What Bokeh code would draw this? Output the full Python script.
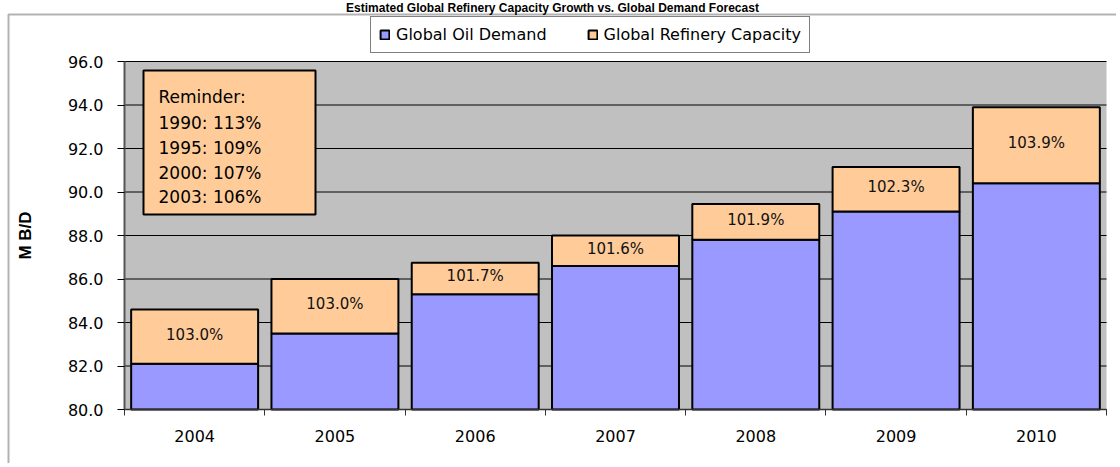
import math
from bokeh.plotting import figure
from bokeh.models import (Range1d, FixedTicker, Legend, LegendItem, Label,
                          BoxAnnotation, PrintfTickFormatter, ColumnDataSource)
from bokeh.core.properties import value
from bokeh.embed import file_html
from bokeh.resources import INLINE

# ---------------- data ----------------
years = ["2004", "2005", "2006", "2007", "2008", "2009", "2010"]
demand = [82.1, 83.5, 85.3, 86.6, 87.8, 89.1, 90.4]          # Global Oil Demand (M B/D)
capacity = [84.6, 86.0, 86.75, 88.0, 89.45, 91.15, 93.9]     # Global Refinery Capacity (M B/D)
growth_labels = ["103.0%", "103.0%", "101.7%", "101.6%", "101.9%", "102.3%", "103.9%"]
reminder_years = ["1990", "1995", "2000", "2003"]
reminder_values = ["113%", "109%", "107%", "106%"]
y_ticks = [80, 82, 84, 86, 88, 90, 92, 94, 96]
title_text = "Estimated Global Refinery Capacity Growth vs. Global Demand Forecast"
y_title = "M B/D"

# ---------------- layout (page pixels; the frame covers the whole canvas) ----------------
W, H = 1116, 463
PL, PR, PT, PB = 124, 1106, 61, 409   # grey plot area
Y0, Y1 = 80.0, 96.0
N = len(years)


def dx(cx):
    return (cx - PL) / (PR - PL) * N


def dy(cy):
    return Y0 + (PB - cy) / (PB - PT) * (Y1 - Y0)


xc = [i + 0.5 for i in range(N)]
src = ColumnDataSource(dict(
    x=xc, demand=demand, capacity=capacity, base=[Y0] * N,
    mid=[(d + c) / 2 for d, c in zip(demand, capacity)], lab=growth_labels))

p = figure(width=W, height=H, x_range=Range1d(dx(0), dx(W)), y_range=Range1d(dy(H), dy(0)),
           output_backend="svg", toolbar_location=None, title_location=None,
           min_border_left=0, min_border_right=0, min_border_top=0, min_border_bottom=0)
p.background_fill_color = "white"
p.border_fill_color = "white"
p.outline_line_color = None

# outer chart border
p.add_layout(BoxAnnotation(left=dx(8), right=dx(W + 60), top=dy(14), bottom=dy(H + 60),
                           fill_color=None, line_color="black", line_width=2))

# title (above the chart border)
p.add_layout(Label(x=dx(552), y=dy(0), text=title_text, text_align="center",
                   text_baseline="top", text_font="Liberation Sans",
                   text_font_style="bold", text_font_size="12px", text_color="black"))

# y title
p.add_layout(Label(x=dx(25), y=dy(235), text=y_title, angle=math.pi / 2,
                   text_align="center", text_baseline="middle",
                   text_font="Liberation Sans", text_font_style="bold",
                   text_font_size="17px", text_color="black"))

# grey plot area and grid lines
p.quad(left=[0], right=[N], bottom=[Y0], top=[Y1], fill_color="#C0C0C0", line_color=None)
p.segment(x0=[0] * len(y_ticks), x1=[N] * len(y_ticks), y0=y_ticks, y1=y_ticks,
          line_color="black", line_width=1)
p.xgrid.visible = False
p.ygrid.visible = False

# bars
BAR_W = 0.905
r1 = p.vbar(x="x", width=BAR_W, bottom="base", top="demand", source=src,
            fill_color="#9999FF", line_color="black", line_width=2)
r2 = p.vbar(x="x", width=BAR_W, bottom="demand", top="capacity", source=src,
            fill_color="#FFCC99", line_color="black", line_width=2)
p.text(x="x", y="mid", text="lab", source=src, text_align="center",
       text_baseline="middle", text_font=value("DejaVu Sans"),
       text_font_size="15px", text_color="#111111", y_offset=-2)

# reminder box
p.quad(left=[dx(143)], right=[dx(315)], top=[dy(70)], bottom=[dy(214)],
       fill_color="#FFCC99", line_color="black", line_width=2)
rem_lines = ["Reminder:"] + [f"{y}:  {v}" for y, v in zip(reminder_years, reminder_values)]
rem_base = [96.7, 122.3, 147.3, 172.3, 196.7]
p.text(x=[dx(158)] * len(rem_lines), y=[dy(b) for b in rem_base], text=rem_lines,
       text_align="left", text_baseline="alphabetic",
       text_font=value("DejaVu Sans"), text_font_size="17px", text_color="black")

# y axis (fixed at the left edge of the plot area)
p.yaxis.fixed_location = 0
p.yaxis.bounds = (Y0, Y1)
p.yaxis.ticker = FixedTicker(ticks=y_ticks)
p.yaxis.formatter = PrintfTickFormatter(format="%.1f")
p.yaxis.major_tick_out = 7
p.yaxis.major_tick_in = 0
p.yaxis.major_tick_line_color = "black"
p.yaxis.minor_tick_line_color = None
p.yaxis.axis_line_color = "#555555"
p.yaxis.axis_line_width = 2
p.yaxis.major_label_standoff = 14
p.yaxis.major_label_text_font = "DejaVu Sans"
p.yaxis.major_label_text_font_size = "16px"
p.yaxis.major_label_text_color = "black"

# x axis (fixed at the bottom of the plot area)
p.xaxis.fixed_location = Y0
p.xaxis.bounds = (0, N)
p.xaxis.ticker = FixedTicker(ticks=xc, minor_ticks=list(range(N + 1)))
p.xaxis.major_label_overrides = {x: y for x, y in zip(xc, years)}
p.xaxis.major_tick_out = 0
p.xaxis.major_tick_in = 0
p.xaxis.major_tick_line_color = None
p.xaxis.minor_tick_out = 6
p.xaxis.minor_tick_in = 0
p.xaxis.minor_tick_line_color = "#333333"
p.xaxis.axis_line_color = "#333333"
p.xaxis.axis_line_width = 1.5
p.xaxis.major_label_standoff = 14
p.xaxis.major_label_text_font = "DejaVu Sans"
p.xaxis.major_label_text_font_size = "16px"
p.xaxis.major_label_text_color = "black"

# legend above the grey plot area
legend = Legend(items=[LegendItem(label="Global Oil Demand", renderers=[r1]),
                       LegendItem(label="Global Refinery Capacity", renderers=[r2])],
                orientation="horizontal", location=(370, H - 53),
                label_text_font="DejaVu Sans", label_text_font_size="16px",
                label_text_color="black", label_height=18,
                glyph_width=11, glyph_height=11, label_standoff=6, spacing=40,
                padding=8, margin=0, border_line_color="black", border_line_width=1,
                background_fill_color="white", background_fill_alpha=1.0)
p.add_layout(legend)

open("out.html", "w").write(file_html(p, INLINE))
